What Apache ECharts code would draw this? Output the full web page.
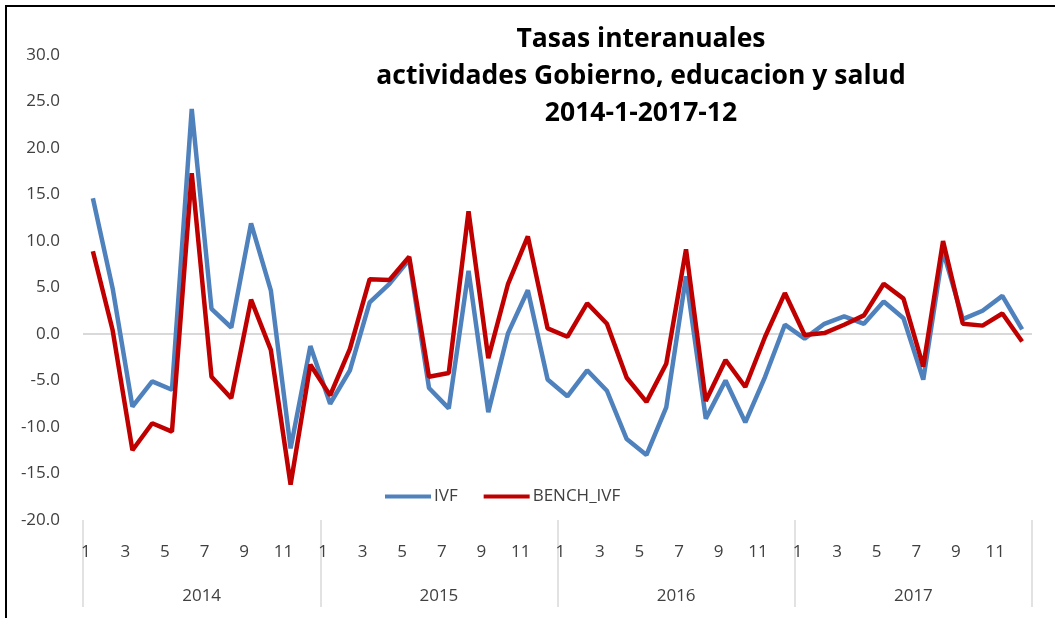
<!DOCTYPE html>
<html>
<head>
<meta charset="utf-8">
<script src="https://cdn.jsdelivr.net/npm/echarts@6/dist/echarts.min.js"></script>
<style>html,body{margin:0;padding:0;background:#fff;}#c{width:1055px;height:618px;}</style>
</head>
<body>
<div id="c"></div>
<script>
const years = ['2014', '2015', '2016', '2017'];
const monthLabels = ['1','2','3','4','5','6','7','8','9','10','11','12'];
const ivf = [14.6, 4.9, -7.8, -5.1, -6.0, 24.2, 2.7, 0.7, 11.9, 4.7, -12.3, -1.3,
  -7.5, -3.9, 3.4, 5.4, 8.0, -5.8, -8.0, 6.8, -8.4, 0.1, 4.7, -4.9,
  -6.7, -3.9, -6.1, -11.3, -13.0, -7.9, 6.2, -9.1, -5.0, -9.5, -4.6, 1.0,
  -0.5, 1.1, 1.9, 1.1, 3.5, 1.7, -4.9, 8.9, 1.6, 2.5, 4.1, 0.5];
const benchIvf = [8.9, 0.4, -12.5, -9.6, -10.5, 17.3, -4.6, -6.9, 3.7, -1.7, -16.2, -3.3,
  -6.6, -1.6, 5.9, 5.8, 8.3, -4.6, -4.2, 13.2, -2.6, 5.4, 10.5, 0.6,
  -0.3, 3.3, 1.1, -4.7, -7.3, -3.2, 9.1, -7.2, -2.8, -5.7, -0.3, 4.4,
  -0.1, 0.1, 1.0, 2.0, 5.4, 3.8, -3.5, 10.0, 1.1, 0.9, 2.2, -0.8];
const titleLines = ['Tasas interanuales', 'actividades Gobierno, educacion y salud', '2014-1-2017-12'];

const months = [];
years.forEach(y => monthLabels.forEach(m => months.push(m)));

// split line colours: only the 0.0 line is visible (ticks -20..30 step 5)
const NONE = 'rgba(0,0,0,0)';
const splitColors = [NONE, NONE, NONE, NONE, '#d9d9d9', NONE, NONE, NONE, NONE, NONE, NONE];

const FONT = '"Open Sans", "Noto Sans", sans-serif';
const LABEL = '#404040';
const chart = echarts.init(document.getElementById('c'), null, {renderer: 'canvas'});
chart.setOption({
  animation: false,
  backgroundColor: '#fff',
  textStyle: {fontFamily: FONT},
  title: {
    text: titleLines.join('\n'),
    left: 636, top: 16, textAlign: 'center',
    textStyle: {fontFamily: FONT, fontSize: 26.5, fontWeight: 'bold', color: '#000', lineHeight: 37}
  },
  legend: {
    left: 380, top: 483,
    icon: 'rect', itemWidth: 46, itemHeight: 4, itemGap: 26,
    textStyle: {fontFamily: FONT, fontSize: 17, color: LABEL, padding: [0,0,0,-2]},
    data: ['IVF', 'BENCH_IVF']
  },
  grid: {left: 83, right: 23, top: 55, bottom: 98},
  xAxis: [
    {
      type: 'category', data: months, position: 'bottom', boundaryGap: true,
      axisLine: {show: false}, axisTick: {show: false},
      axisLabel: {interval: 1, margin: 24, fontSize: 17, color: LABEL, fontFamily: FONT, padding: [0, 14, 0, 0]}
    },
    {
      type: 'category', data: years, position: 'bottom', boundaryGap: true,
      axisLine: {show: false},
      axisTick: {show: true, length: 87, interval: 0, lineStyle: {color: '#d9d9d9', width: 1.5}},
      axisLabel: {interval: 0, margin: 68, fontSize: 17, color: LABEL, fontFamily: FONT}
    }
  ],
  yAxis: {
    type: 'value', min: -20, max: 30, interval: 5,
    axisLine: {show: false}, axisTick: {show: false},
    splitLine: {show: true, lineStyle: {color: splitColors, width: 2}},
    axisLabel: {margin: 23, fontSize: 17, color: LABEL, fontFamily: FONT, formatter: v => v.toFixed(1)}
  },
  series: [
    {name: 'IVF', type: 'line', xAxisIndex: 0, data: ivf, symbol: 'none',
     lineStyle: {color: '#4f81bd', width: 4.5}, itemStyle: {color: '#4f81bd'}},
    {name: 'BENCH_IVF', type: 'line', xAxisIndex: 0, data: benchIvf, symbol: 'none',
     lineStyle: {color: '#c00000', width: 4.5}, itemStyle: {color: '#c00000'}}
  ],
  graphic: [{
    type: 'rect', silent: true,
    shape: {x: 6, y: 6, width: 1200, height: 800},
    style: {fill: 'none', stroke: '#000', lineWidth: 2}
  }]
});
</script>
</body>
</html>
